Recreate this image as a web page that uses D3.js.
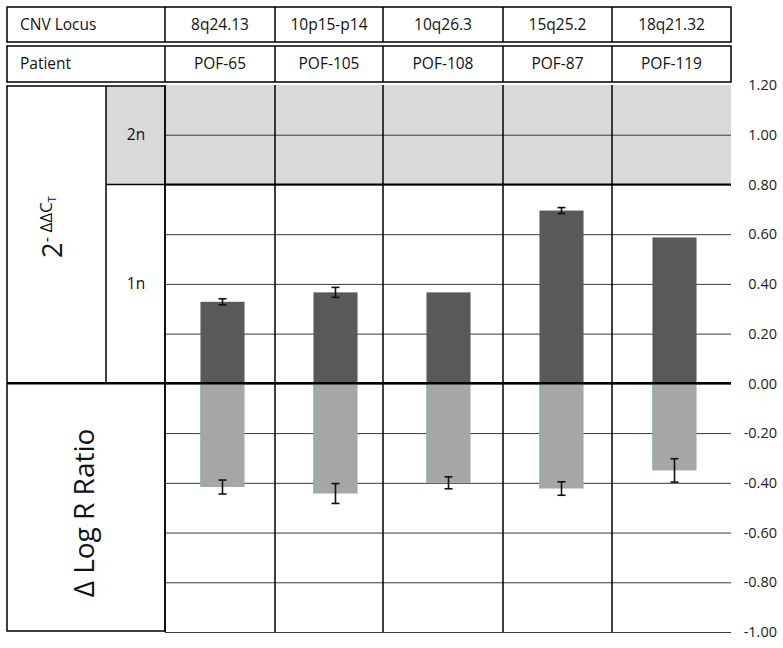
<!DOCTYPE html>
<html>
<head>
<meta charset="utf-8">
<script src="https://cdn.jsdelivr.net/npm/d3@7/dist/d3.min.js"></script>
<style>
  html, body { margin: 0; padding: 0; background: #fff; }
  svg { display: block; font-family: "Open Sans", "Noto Sans", sans-serif; }
</style>
</head>
<body>
<svg id="chart" width="783" height="648"></svg>
<script>
// ---------------- data ----------------
const loci     = ["8q24.13", "10p15-p14", "10q26.3", "15q25.2", "18q21.32"];
const patients = ["POF-65", "POF-105", "POF-108", "POF-87", "POF-119"];
const ddctValues   = [0.328, 0.366, 0.366, 0.695, 0.587];   // 2^-ΔΔCt (upper bars)
const ddctErrors   = [0.012, 0.020, 0, 0.012, 0];
const logRValues   = [-0.417, -0.443, -0.400, -0.423, -0.350]; // Δ Log R Ratio (lower bars)
const logRErrors   = [0.028, 0.040, 0.024, 0.027, 0.047];
const tickValues   = [1.2, 1.0, 0.8, 0.6, 0.4, 0.2, 0.0, -0.2, -0.4, -0.6, -0.8, -1.0];

// ---------------- layout ----------------
const L = {
  left: 7, plotL: 165, plotR: 731, top: 85, bottom: 632,
  innerDiv: 106, colLines: [165, 275, 383, 503, 612, 731],
  row1: [7, 42], row2: [46, 82]
};
const svg = d3.select("#chart");

const y = d3.scaleLinear().domain([-1, 1.2]).range([L.bottom, L.top]);
const x = d3.scaleBand().domain(patients).range([L.plotL + 1, L.plotR])
  .paddingInner(0.61).paddingOuter(0.305);

// gray 2n band
svg.append("rect").attr("x", L.plotL).attr("y", y(1.2))
  .attr("width", L.plotR - L.plotL).attr("height", y(0.8) - y(1.2)).attr("fill", "#d9d9d9");
svg.append("rect").attr("x", L.innerDiv).attr("y", y(1.2) + 1)
  .attr("width", L.plotL - L.innerDiv).attr("height", y(0.8) - y(1.2) - 1).attr("fill", "#d9d9d9");

// gridlines + tick labels via axis
const axis = d3.axisRight(y).tickValues(tickValues).tickSize(-(L.plotR - L.plotL))
  .tickFormat(d3.format(".2f"));
const ag = svg.append("g").attr("transform", `translate(${L.plotR},0)`).call(axis)
  .attr("font-size", null).attr("font-family", null);
ag.select(".domain").remove();
ag.selectAll(".tick line")
  .attr("stroke", d => (Math.abs(d - 1.2) < 1e-9) ? "none" : "#3a3a3a")
  .attr("stroke-width", 1);
ag.selectAll(".tick text")
  .attr("x", 46).attr("text-anchor", "end")
  .style("font-size", "14.5px").attr("fill", "#222")
  .text(d => d3.format(".2f")(d).replace("−", "-"));

// bars
const bw = x.bandwidth();
svg.append("g").selectAll("rect").data(patients).join("rect")
  .attr("x", d => x(d)).attr("width", bw)
  .attr("y", (d, i) => y(ddctValues[i])).attr("height", (d, i) => y(0) - y(ddctValues[i]))
  .attr("fill", "#595959");
svg.append("g").selectAll("rect").data(patients).join("rect")
  .attr("x", d => x(d)).attr("width", bw)
  .attr("y", y(0)).attr("height", (d, i) => y(logRValues[i]) - y(0))
  .attr("fill", "#a6a6a6");
svg.append("g").selectAll("line").data(patients).join("line")
  .attr("x1", d => x(d) + 0.5).attr("x2", d => x(d) + 0.5)
  .attr("y1", y(0)).attr("y2", (d, i) => y(logRValues[i]))
  .attr("stroke", "#6db9b9").attr("stroke-width", 1);

// error bars
function errorBars(vals, errs) {
  const g = svg.append("g").attr("stroke", "#111").attr("stroke-width", 1.6);
  patients.forEach((p, i) => {
    if (!errs[i]) return;
    const cx = x(p) + bw / 2;
    const y1 = y(vals[i] + errs[i]), y2 = y(vals[i] - errs[i]);
    g.append("line").attr("x1", cx).attr("x2", cx).attr("y1", y1).attr("y2", y2);
    g.append("line").attr("x1", cx - 4).attr("x2", cx + 4).attr("y1", y1).attr("y2", y1);
    g.append("line").attr("x1", cx - 4).attr("x2", cx + 4).attr("y1", y2).attr("y2", y2);
  });
}
errorBars(ddctValues, ddctErrors);
errorBars(logRValues, logRErrors);

// thick lines at 0 and 0.8
svg.append("line").attr("x1", L.left).attr("x2", L.plotR).attr("y1", y(0)).attr("y2", y(0))
  .attr("stroke", "#000").attr("stroke-width", 2.5);
svg.append("line").attr("x1", L.plotL).attr("x2", L.plotR).attr("y1", y(0.8)).attr("y2", y(0.8))
  .attr("stroke", "#000").attr("stroke-width", 2);
svg.append("line").attr("x1", L.innerDiv).attr("x2", L.plotL).attr("y1", y(0.8)).attr("y2", y(0.8))
  .attr("stroke", "#000").attr("stroke-width", 1.5);

// table vertical lines through plot
svg.append("g").selectAll("line").data(L.colLines.slice(0, 5)).join("line")
  .attr("x1", d => d).attr("x2", d => d).attr("y1", y(1.2)).attr("y2", L.bottom)
  .attr("stroke", "#000").attr("stroke-width", 1.5);

// left panel box
svg.append("rect").attr("x", L.left).attr("y", y(1.2) + 1)
  .attr("width", L.plotL - L.left).attr("height", L.bottom - 1 - y(1.2) - 1)
  .attr("fill", "none").attr("stroke", "#000").attr("stroke-width", 1.5);
svg.append("line").attr("x1", L.innerDiv).attr("x2", L.innerDiv).attr("y1", y(1.2) + 1).attr("y2", y(0))
  .attr("stroke", "#000").attr("stroke-width", 1.5);

// top table rows
function tableRow(r, label, vals) {
  svg.append("rect").attr("x", L.left).attr("y", r[0]).attr("width", L.plotR - L.left)
    .attr("height", r[1] - r[0]).attr("fill", "none").attr("stroke", "#000").attr("stroke-width", 1.5);
  L.colLines.slice(0, 5).forEach(cx => {
    svg.append("line").attr("x1", cx).attr("x2", cx).attr("y1", r[0]).attr("y2", r[1])
      .attr("stroke", "#000").attr("stroke-width", 1.5);
  });
  const cy = (r[0] + r[1]) / 2;
  svg.append("text").attr("x", 20).attr("y", cy).attr("dy", "0.35em")
    .attr("font-size", 15.5).attr("fill", "#111").text(label);
  vals.forEach((v, i) => {
    const cx = (L.colLines[i] + L.colLines[i + 1]) / 2;
    svg.append("text").attr("x", cx).attr("y", cy).attr("dy", "0.35em")
      .attr("text-anchor", "middle").attr("font-size", 15.5).attr("fill", "#111").text(v);
  });
}
tableRow(L.row1, "CNV Locus", loci);
tableRow(L.row2, "Patient", patients);

// left labels
svg.append("text").attr("x", 136).attr("y", y(1.0)).attr("dy", "0.35em")
  .attr("text-anchor", "middle").attr("font-size", 15.5).attr("fill", "#111").text("2n");
svg.append("text").attr("x", 136).attr("y", y(0.4)).attr("dy", "0.35em")
  .attr("text-anchor", "middle").attr("font-size", 15.5).attr("fill", "#111").text("1n");

const t1 = svg.append("text").attr("transform", "translate(62,227) rotate(-90)")
  .attr("text-anchor", "middle").attr("fill", "#111");
t1.append("tspan").attr("font-size", 27).text("2");
t1.append("tspan").attr("font-size", 17).attr("dy", -10).text("- ΔΔC");
t1.append("tspan").attr("font-size", 11).attr("dy", 4).text("T");

svg.append("text").attr("transform", "translate(94,513) rotate(-90)")
  .attr("text-anchor", "middle").attr("font-size", 28).attr("fill", "#111").text("Δ Log R Ratio");
</script>
</body>
</html>
